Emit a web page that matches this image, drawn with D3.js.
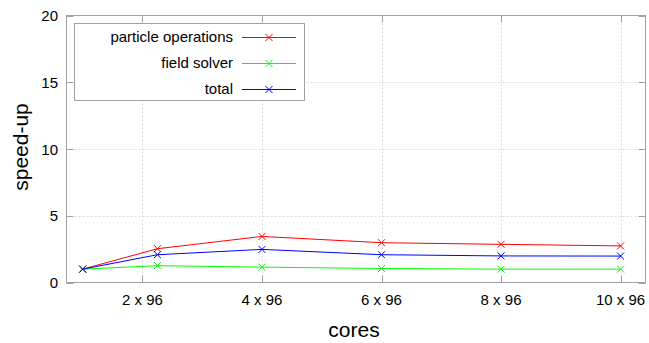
<!DOCTYPE html>
<html>
<head>
<meta charset="utf-8">
<script src="https://cdn.jsdelivr.net/npm/d3@7"></script>
<style>
  html, body { margin: 0; padding: 0; background: #fff; }
  svg { display: block; font-family: "Liberation Sans", Arial, sans-serif; }
</style>
</head>
<body>
<svg id="chart" width="649" height="343"></svg>
<script>
// core counts measured
const cores = [96, 216, 384, 576, 768, 960];
// speed-up per component
const particleOps = [1.0, 2.53, 3.45, 2.98, 2.86, 2.74];
const fieldSolver = [1.0, 1.26, 1.15, 1.05, 1.0, 1.0];
const total = [1.0, 2.08, 2.48, 2.08, 1.99, 1.98];

const seriesNames = ["particle operations", "field solver", "total"];
const seriesColors = ["#ff0000", "#00ff00", "#0000ff"];

const xTicks = [192, 384, 576, 768, 960];
const xTickLabels = ["2 x 96", "4 x 96", "6 x 96", "8 x 96", "10 x 96"];
const yTicks = [0, 5, 10, 15, 20];

const svg = d3.select("#chart");
const plotLeft = 66.5, plotRight = 645.5, plotTop = 15.5, plotBottom = 282.5;

const x = d3.scaleLinear().domain([70, 1000]).range([plotLeft, plotRight]);
const y = d3.scaleLinear().domain([0, 20]).range([plotBottom, plotTop]);

const borderColor = "#a0a0a0";
const gridColor = "#dcdcdc";

// grid
const grid = svg.append("g");
grid.selectAll(".gx").data(xTicks).join("line")
  .attr("x1", d => Math.round(x(d)) + 0.5).attr("x2", d => Math.round(x(d)) + 0.5)
  .attr("y1", plotTop).attr("y2", plotBottom)
  .attr("stroke", gridColor).attr("stroke-dasharray", "2,2");
grid.selectAll(".gy").data(yTicks.slice(1, -1)).join("line")
  .attr("x1", plotLeft).attr("x2", plotRight)
  .attr("y1", d => Math.round(y(d)) + 0.5).attr("y2", d => Math.round(y(d)) + 0.5)
  .attr("stroke", gridColor).attr("stroke-dasharray", "2,2");

// axes with inward, mirrored ticks
const tickLen = 7;
const axes = svg.append("g").attr("stroke", borderColor).attr("fill", "none");
xTicks.forEach(t => {
  const px = Math.round(x(t)) + 0.5;
  axes.append("line").attr("x1", px).attr("x2", px).attr("y1", plotBottom).attr("y2", plotBottom - tickLen);
  axes.append("line").attr("x1", px).attr("x2", px).attr("y1", plotTop).attr("y2", plotTop + tickLen);
});
yTicks.forEach(t => {
  const py = Math.round(y(t)) + 0.5;
  axes.append("line").attr("x1", plotLeft).attr("x2", plotLeft + tickLen).attr("y1", py).attr("y2", py);
  axes.append("line").attr("x1", plotRight).attr("x2", plotRight - tickLen).attr("y1", py).attr("y2", py);
});
axes.append("rect").attr("x", plotLeft).attr("y", plotTop)
  .attr("width", plotRight - plotLeft).attr("height", plotBottom - plotTop);

// tick labels
svg.append("g").selectAll("text").data(xTicks).join("text")
  .attr("x", d => x(d)).attr("y", 305)
  .attr("text-anchor", "middle").attr("font-size", 15).attr("fill", "#000")
  .text((d, i) => xTickLabels[i]);
svg.append("g").selectAll("text").data(yTicks).join("text")
  .attr("x", 58).attr("y", d => y(d) + 5.5)
  .attr("text-anchor", "end").attr("font-size", 15).attr("fill", "#000")
  .text(d => d);

// axis titles
svg.append("text").attr("x", 354).attr("y", 337)
  .attr("text-anchor", "middle").attr("font-size", 21).text("cores");
svg.append("text")
  .attr("transform", "translate(28,147) rotate(-90)")
  .attr("text-anchor", "middle").attr("font-size", 21).text("speed-up");

// series
const allSeries = [particleOps, fieldSolver, total];
const line = d3.line().x((d, i) => x(cores[i])).y(d => y(d));
const markerSize = 3.5;
function drawCross(g, cx, cy, color) {
  g.append("path")
    .attr("d", `M${cx - markerSize},${cy - markerSize}L${cx + markerSize},${cy + markerSize}M${cx - markerSize},${cy + markerSize}L${cx + markerSize},${cy - markerSize}`)
    .attr("stroke", color).attr("fill", "none");
}
const plot = svg.append("g");
allSeries.forEach((vals, si) => {
  plot.append("path").datum(vals).attr("d", line)
    .attr("fill", "none").attr("stroke", seriesColors[si]).attr("stroke-width", 1);
  vals.forEach((v, i) => drawCross(plot, x(cores[i]), y(v), seriesColors[si]));
});

// legend
const legend = svg.append("g");
legend.append("rect").attr("x", 74.5).attr("y", 23.5).attr("width", 230).attr("height", 77)
  .attr("fill", "#fff").attr("stroke", borderColor);
seriesNames.forEach((name, i) => {
  const ly = 37 + i * 26;
  legend.append("text").attr("x", 233).attr("y", ly + 5)
    .attr("text-anchor", "end").attr("font-size", 15).text(name);
  legend.append("line").attr("x1", 242).attr("x2", 296).attr("y1", ly + 0.5).attr("y2", ly + 0.5)
    .attr("stroke", seriesColors[i]);
  drawCross(legend, 269, ly + 0.5, seriesColors[i]);
});
</script>
</body>
</html>
